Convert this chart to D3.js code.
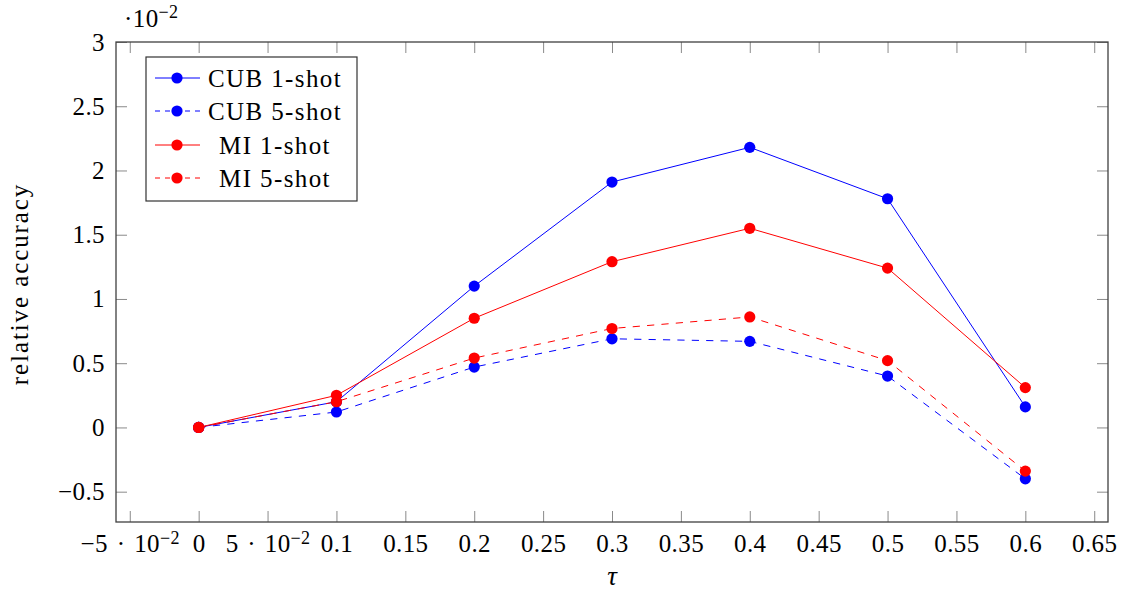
<!DOCTYPE html>
<html><head><meta charset="utf-8">
<script src="https://cdn.jsdelivr.net/npm/d3@7"></script>
<style>
html,body{margin:0;padding:0;background:#fff;}
svg text{font-family:"Liberation Serif","DejaVu Serif",serif;fill:#000;}
</style></head>
<body><svg id="c" width="1128" height="592"></svg>
<script>
const taus = [0, 0.1, 0.2, 0.3, 0.4, 0.5, 0.6];
const cub1 = [0, 0.20, 1.10, 1.91, 2.18, 1.78, 0.16];
const cub5 = [0, 0.12, 0.47, 0.69, 0.67, 0.40, -0.40];
const mi1  = [0, 0.25, 0.85, 1.29, 1.55, 1.24, 0.31];
const mi5  = [0, 0.20, 0.54, 0.77, 0.86, 0.52, -0.34];
const seriesNames = ["CUB 1-shot", "CUB 5-shot", "MI 1-shot", "MI 5-shot"];
const seriesColors = ["#0000ff", "#0000ff", "#ff0000", "#ff0000"];
const seriesDashed = [false, true, false, true];
const xTickValues = [-0.05, 0, 0.05, 0.1, 0.15, 0.2, 0.25, 0.3, 0.35, 0.4, 0.45, 0.5, 0.55, 0.6, 0.65];
const xTickLabels = ["−5\u2004·\u200410^−2", "0", "5\u2004·\u200410^−2", "0.1", "0.15", "0.2", "0.25", "0.3", "0.35", "0.4", "0.45", "0.5", "0.55", "0.6", "0.65"];
const yTickValues = [-0.5, 0, 0.5, 1, 1.5, 2, 2.5, 3];
const yTickLabels = ["−0.5", "0", "0.5", "1", "1.5", "2", "2.5", "3"];

const series = [cub1, cub5, mi1, mi5];
const svg = d3.select("#c");
const L = 116, R = 1108, T = 42, B = 522;
const x = d3.scaleLinear().domain([-0.06, 0.66]).range([L, R]);
const y = d3.scaleLinear().domain([-0.736, 3]).range([B, T]);
const FS = 25;
const NUM_LS = "0.4px", WORD_LS = "1.4px";

function richText(sel, label) {
  const parts = label.split("^");
  sel.text(null);
  sel.append("tspan").text(parts[0]);
  if (parts.length > 1) {
    sel.append("tspan").attr("dy", "-0.45em").style("font-size", "18px").text(parts[1]);
  }
}

const tickLen = 11;
const gx = svg.append("g").attr("transform", `translate(0,${B})`)
  .call(d3.axisBottom(x).tickValues(xTickValues).tickSize(-tickLen).tickPadding(12)
    .tickFormat((d, i) => xTickLabels[i]));
gx.select(".domain").remove();
gx.selectAll(".tick line").attr("stroke", "#8a8a8a").attr("stroke-width", 1);
gx.selectAll(".tick text").style("font-size", FS + "px").style("letter-spacing", NUM_LS).attr("dy", "0.71em")
  .each(function(d, i) { richText(d3.select(this), xTickLabels[i]); });

const gxt = svg.append("g").attr("transform", `translate(0,${T})`)
  .call(d3.axisTop(x).tickValues(xTickValues).tickSize(-tickLen).tickFormat(""));
gxt.select(".domain").remove();
gxt.selectAll(".tick line").attr("stroke", "#8a8a8a").attr("stroke-width", 1);

const gy = svg.append("g").attr("transform", `translate(${L},0)`)
  .call(d3.axisLeft(y).tickValues(yTickValues).tickSize(-tickLen).tickPadding(11)
    .tickFormat((d, i) => yTickLabels[i]));
gy.select(".domain").remove();
gy.selectAll(".tick line").attr("stroke", "#8a8a8a").attr("stroke-width", 1);
gy.selectAll(".tick text").style("font-size", FS + "px").style("letter-spacing", NUM_LS);

const gyr = svg.append("g").attr("transform", `translate(${R},0)`)
  .call(d3.axisRight(y).tickValues(yTickValues).tickSize(-tickLen).tickFormat(""));
gyr.select(".domain").remove();
gyr.selectAll(".tick line").attr("stroke", "#8a8a8a").attr("stroke-width", 1);

svg.append("rect").attr("x", L).attr("y", T).attr("width", R - L).attr("height", B - T)
  .attr("fill", "none").attr("stroke", "#404040").attr("stroke-width", 1.3);

const line = d3.line().x((d, i) => x(taus[i])).y(d => y(d));
series.forEach((s, k) => {
  svg.append("path").datum(s).attr("d", line).attr("fill", "none")
    .attr("stroke", seriesColors[k]).attr("stroke-width", 1)
    .attr("stroke-dasharray", seriesDashed[k] ? "7.2,7.2" : null);
  svg.append("g").selectAll("circle").data(s).join("circle")
    .attr("cx", (d, i) => x(taus[i])).attr("cy", d => y(d)).attr("r", 5.6)
    .attr("fill", seriesColors[k]);
});

const lg = svg.append("g");
lg.append("rect").attr("x", 146).attr("y", 57).attr("width", 211).attr("height", 144)
  .attr("fill", "#fff").attr("stroke", "#333").attr("stroke-width", 1.2);
const legY = [78, 111, 145, 178];
seriesNames.forEach((n, k) => {
  const yy = legY[k];
  lg.append("line").attr("x1", 155).attr("x2", 200).attr("y1", yy).attr("y2", yy)
    .attr("stroke", seriesColors[k]).attr("stroke-width", 1)
    .attr("stroke-dasharray", seriesDashed[k] ? "5,5" : null);
  lg.append("circle").attr("cx", 177).attr("cy", yy).attr("r", 5.6).attr("fill", seriesColors[k]);
  lg.append("text").attr("x", 275).attr("y", yy).attr("dy", "0.35em")
    .attr("text-anchor", "middle").style("font-size", FS + "px").style("letter-spacing", WORD_LS).text(n);
});

const ex = svg.append("text").attr("x", 124).attr("y", 27).style("font-size", FS + "px").style("letter-spacing", NUM_LS);
ex.append("tspan").text("·10");
ex.append("tspan").attr("dy", "-9").style("font-size", "18px").text("−2");

svg.append("text").attr("transform", `translate(28,${(T + B) / 2 + 2}) rotate(-90)`)
  .attr("text-anchor", "middle").style("font-size", FS + "px").style("letter-spacing", "1.9px").text("relative accuracy");
svg.append("text").attr("x", x(0.3)).attr("y", 585).attr("text-anchor", "middle")
  .style("font-size", "27px").style("font-style", "italic").text("τ");
</script></body></html>
